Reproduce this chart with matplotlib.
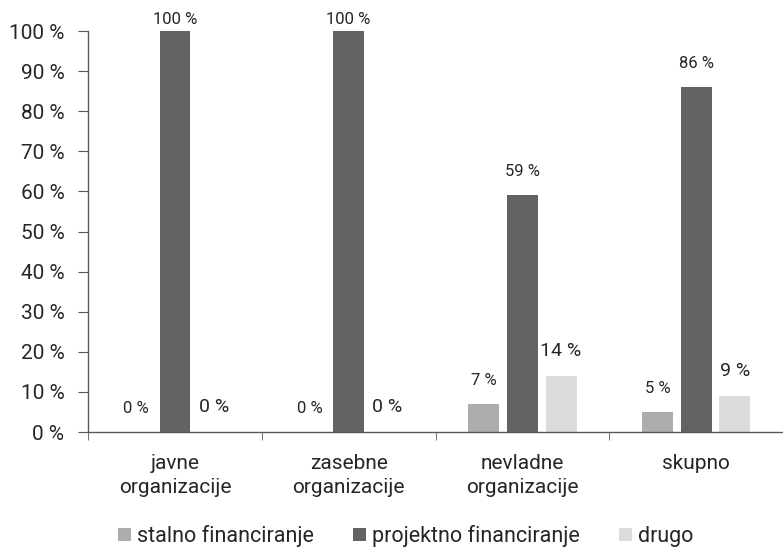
import matplotlib
matplotlib.use("Agg")
import matplotlib.pyplot as plt
import numpy as np

plt.rcParams['font.family'] = ['Roboto', 'DejaVu Sans']

# data
categories = ["javne\norganizacije", "zasebne\norganizacije", "nevladne\norganizacije", "skupno"]
series_names = ["stalno financiranje", "projektno financiranje", "drugo"]
stalno = [0, 0, 7, 5]
projektno = [100, 100, 59, 86]
drugo = [0, 0, 14, 9]
colors = ["#adadb0", "#636365", "#dbdbdd"]

fig = plt.figure(figsize=(7.83, 5.49), dpi=100)
ax = fig.add_axes([0.1124, 0.2131, 0.8876, 0.7304])

x = np.arange(len(categories))
w = 0.177
step = 0.223
label_sizes = [12, 12, 14]
for k, (vals, name) in enumerate(zip([stalno, projektno, drugo], series_names)):
    pos = x + (k - 1) * step
    bars = ax.bar(pos, vals, width=w, color=colors[k], label=name, zorder=2)
    for b, v in zip(bars, vals):
        ax.text(b.get_x() + b.get_width() / 2, min(v + 4, 101), f"{v} %",
                ha='center', va='bottom', fontsize=label_sizes[k], color='#262626',
                clip_on=False)

ax.set_xlim(-0.5, len(categories) - 0.5)
ax.set_ylim(0, 100)
ax.set_yticks(range(0, 101, 10))
ax.set_yticklabels([f"{t} %" for t in range(0, 101, 10)], fontsize=15, color='#262626')
ax.set_xticks(x)
ax.set_xticklabels(categories, fontsize=15, color='#262626', linespacing=1.35)
ax.tick_params(axis='x', length=0, pad=16)
ax.set_xticks(np.arange(-0.5, len(categories), 1), minor=True)
ax.tick_params(axis='x', which='minor', length=6, color='#595959', direction='out')
ax.tick_params(axis='y', length=7, color='#595959', pad=10)

for s in ['top', 'right']:
    ax.spines[s].set_visible(False)
for s in ['left', 'bottom']:
    ax.spines[s].set_color('#595959')
    ax.spines[s].set_linewidth(1)

fig.legend(loc='lower center', bbox_to_anchor=(0.518, -0.032), ncol=3, frameon=False,
           fontsize=15.5, handlelength=0.6, handleheight=0.6, handletextpad=0.3,
           columnspacing=1.8, labelcolor='#262626')

fig.savefig("out.png", dpi=100)
